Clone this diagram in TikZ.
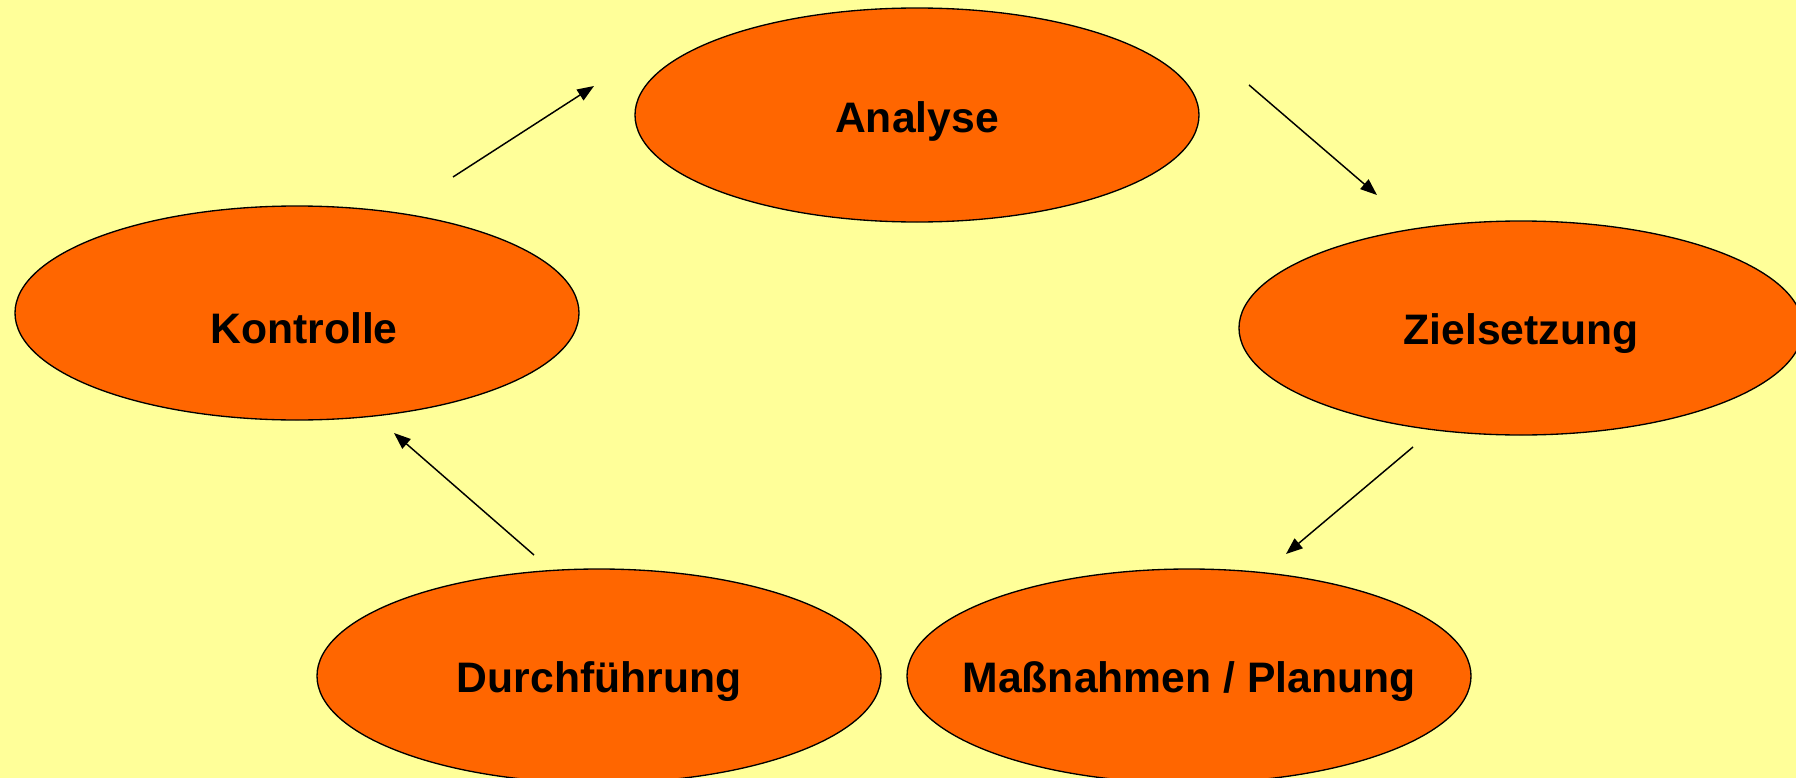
\documentclass[tikz,border=0pt]{standalone}
\usepackage{fontspec}
\setmainfont{Liberation Sans}
\usetikzlibrary{shapes.geometric,arrows.meta}

\definecolor{bgyellow}{RGB}{255,255,153}
\definecolor{phaseorange}{RGB}{255,102,0}

\tikzset{every picture/.style={line width=0.75pt}}
\tikzset{
  phase/.style={ellipse,draw,line width=1pt,fill=phaseorange,inner sep=0pt,
    minimum width=423pt,minimum height=160.5pt},
  phaselbl/.style={anchor=base,inner sep=0pt,font=\fontsize{32}{38}\selectfont\bfseries},
  cyclearrow/.style={line width=1.1pt,-{Triangle[length=12.5pt,width=9.5pt]}}
}

\begin{document}
\begin{tikzpicture}[x=0.75pt,y=0.75pt,yscale=-1,xscale=1]
	%Shape: Rectangle (background)
	\fill [bgyellow] (0,0) rectangle (1796,778);
	\useasboundingbox (0,0) rectangle (1796,778);
	
	%Shape: Ellipse [id:ana]
	\node [phase] (ana) at (917,115) {};
	%Shape: Ellipse [id:kon]
	\node [phase] (kon) at (297,313) {};
	%Shape: Ellipse [id:ziel]
	\node [phase] (ziel) at (1521,328) {};
	%Shape: Ellipse [id:durch]
	\node [phase] (durch) at (599,676) {};
	%Shape: Ellipse [id:mass]
	\node [phase] (mass) at (1189,676) {};
	
	% Text Node
	\node [phaselbl] (ana-t) at (917,132) {Analyse};
	% Text Node
	\node [phaselbl] (kon-t) at (304,343) {Kontrolle};
	% Text Node
	\node [phaselbl] (ziel-t) at (1521,344) {Zielsetzung};
	% Text Node
	\node [phaselbl] (durch-t) at (599,692) {Durchführung};
	% Text Node
	\node [phaselbl] (mass-t) at (1189,692) {Maßnahmen / Planung};
	
	%Straight Lines [id:arrow ends]
	\coordinate (kon-out) at (453,177);
	\coordinate (ana-in) at (594,86);
	\coordinate (ana-out) at (1249,85);
	\coordinate (ziel-in) at (1377,195);
	\coordinate (ziel-out) at (1413,447);
	\coordinate (mass-in) at (1286,554);
	\coordinate (durch-out) at (534,555);
	\coordinate (kon-in) at (394,433);
	
	%Straight Lines
	\draw [cyclearrow] (kon-out) -- (ana-in);
	\draw [cyclearrow] (ana-out) -- (ziel-in);
	\draw [cyclearrow] (ziel-out) -- (mass-in);
	\draw [cyclearrow] (durch-out) -- (kon-in);
	
\end{tikzpicture}
\end{document}
